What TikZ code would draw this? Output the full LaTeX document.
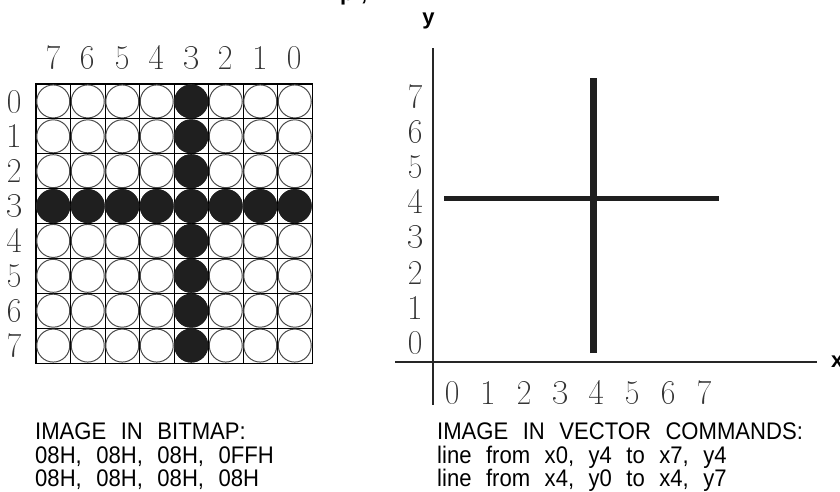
\documentclass[tikz,border=0pt]{standalone}
\usepackage[T1,TU]{fontenc}
\usepackage{fontspec}
\newfontfamily\labfont[FakeStretch=0.92]{Liberation Sans}
\newfontfamily\axfont{Liberation Sans}
\newcommand{\digfont}{\fontencoding{T1}\fontfamily{lmtt}\fontseries{l}\fontshape{n}\fontsize{34}{34}\selectfont}
\newcommand{\capfont}{\labfont\fontsize{24}{24}\selectfont\spaceskip=14.5pt\relax}
\definecolor{dgray}{gray}{0.2}
\begin{document}
\begin{tikzpicture}[x=1pt,y=-1pt,
  cellbox/.style={draw=black, line width=0.8pt, minimum width=34.5pt, minimum height=34.875pt, inner sep=0pt},
  dot/.style={circle, draw=black!70, line width=1pt, fill=white, minimum size=33pt, inner sep=0pt},
  dotfull/.style={circle, fill=black!88, draw=black!88, line width=1pt, minimum size=33pt, inner sep=0pt},
  digit/.style={text=dgray, font=\digfont, inner sep=0pt, anchor=center},
  caption/.style={font=\capfont, anchor=base west, inner sep=0pt, text depth=0pt},
  axislab/.style={font=\axfont\bfseries\fontsize{22}{22}\selectfont, inner sep=0pt},
  axis/.style={line width=1.3pt, black!85},
  bar/.style={black!88}]
\useasboundingbox (0,0) rectangle (840,491);
\begin{scope}
\clip (0,0) rectangle (840,491);
\node[axislab, anchor=base west] (frag) at (340,0.5) {p};
\node[axislab, anchor=base west] (fragc) at (361,0.5) {,};
\end{scope}
% bitmap grid
\foreach \r in {0,...,7} {
  \foreach \c in {0,...,7} {
    \node[cellbox] (cell-\r-\c) at ({36+34.5*(\c+0.5)},{84+34.875*(\r+0.5)}) {};
    \node[dot] (dot-\r-\c) at (cell-\r-\c) {};
  }
}
\foreach \r in {0,...,7} { \node[dotfull] (full-\r-4) at (cell-\r-4) {}; }
\foreach \c in {0,1,2,3,5,6,7} { \node[dotfull] (full-3-\c) at (cell-3-\c) {}; }
\draw[line width=1.5pt] (cell-0-0.north west) rectangle (cell-7-7.south east);
\foreach \r in {0,...,7} { \node[digit] (row-\r) at (15,{84+34.875*(\r+0.5)}) {\r}; }
\foreach \c in {0,...,7} { \node[digit] (col-\c) at ({36+34.5*(\c+0.5)},58) {\the\numexpr7-\c\relax}; }
% vector picture
\coordinate (ytop) at (433,48);
\coordinate (ybot) at (433,405);
\coordinate (xleft) at (395,362);
\coordinate (xright) at (817,362);
\draw[axis] (ytop) -- (ybot);
\draw[axis] (xleft) -- (xright);
\node[axislab, anchor=base] (ylab) at (428.5,24) {y};
\node[axislab, anchor=base west] (xlab) at (831,367.5) {x};
\foreach \k in {0,...,7} {
  \node[digit] (ynum-\k) at (416,{343-35.2*\k}) {\k};
  \node[digit] (xnum-\k) at ({453+36*\k},393) {\k};
}
\coordinate (h0) at (444,198.5);
\coordinate (h7) at (719,198.5);
\coordinate (v0) at (593,353);
\coordinate (v7) at (593,77.7);
\draw[bar, line width=5pt] (h0) -- (h7);
\draw[bar, line width=7pt] (v0) -- (v7);
% captions
\node[caption] (bm1) at (35,439) {IMAGE IN BITMAP:};
\node[caption] (bm2) at (35,463) {08H, 08H, 08H, 0FFH};
\node[caption] (bm3) at (35,486.5) {08H, 08H, 08H, 08H};
\node[caption] (vc1) at (437,439) {IMAGE IN VECTOR COMMANDS:};
\node[caption] (vc2) at (437,463) {line from x0, y4 to x7, y4};
\node[caption] (vc3) at (437,486.5) {line from x4, y0 to x4, y7};
\end{tikzpicture}
\end{document}
